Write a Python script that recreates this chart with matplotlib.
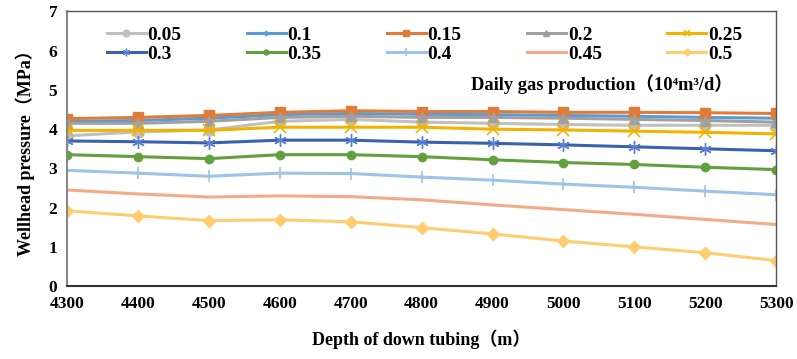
import matplotlib
matplotlib.use('Agg')
import matplotlib.pyplot as plt

depth = [4300, 4400, 4500, 4600, 4700, 4800, 4900, 5000, 5100, 5200, 5300]
labels = ['0.05', '0.1', '0.15', '0.2', '0.25', '0.3', '0.35', '0.4', '0.45', '0.5']

p_005 = [3.83, 3.93, 3.98, 4.20, 4.25, 4.18, 4.15, 4.12, 4.10, 4.10, 4.10]
p_010 = [4.20, 4.22, 4.28, 4.37, 4.40, 4.38, 4.37, 4.35, 4.33, 4.30, 4.28]
p_015 = [4.27, 4.30, 4.35, 4.43, 4.47, 4.45, 4.45, 4.43, 4.43, 4.42, 4.40]
p_020 = [4.15, 4.15, 4.20, 4.30, 4.33, 4.30, 4.30, 4.28, 4.25, 4.22, 4.18]
p_025 = [3.97, 3.97, 3.97, 4.05, 4.05, 4.05, 4.00, 3.98, 3.95, 3.92, 3.88]
p_030 = [3.70, 3.68, 3.65, 3.72, 3.72, 3.67, 3.64, 3.60, 3.55, 3.50, 3.45]
p_035 = [3.35, 3.30, 3.25, 3.35, 3.35, 3.30, 3.22, 3.15, 3.10, 3.03, 2.97]
p_040 = [2.95, 2.88, 2.80, 2.88, 2.87, 2.78, 2.70, 2.60, 2.52, 2.42, 2.33]
p_045 = [2.45, 2.35, 2.27, 2.30, 2.28, 2.20, 2.07, 1.95, 1.83, 1.70, 1.57]
p_050 = [1.92, 1.79, 1.67, 1.69, 1.64, 1.49, 1.33, 1.15, 1.00, 0.85, 0.65]

series = [p_005, p_010, p_015, p_020, p_025, p_030, p_035, p_040, p_045, p_050]
colors = ['#C0C0C0', '#5B9BD5', '#E07B39', '#A0A0A0', '#F2B300',
          '#3A62AE', '#62A03E', '#9DC3E6', '#F4A98A', '#FFCC70']
markers = ['o', 'D', 's', '^', 'x', (6, 2, 0), 'o', '+', None, 'D']
msizes = [8, 4, 7, 7, 8, 9, 6, 9, 0, 6]

plt.rcParams['font.family'] = ['Liberation Serif', 'Noto Sans CJK SC']
plt.rcParams['font.weight'] = 'bold'

fig = plt.figure(figsize=(7.97, 3.59), dpi=100)
ax = fig.add_axes([0.084, 0.203, 0.89, 0.765])

lines = []
for y, lab, c, m, ms in zip(series, labels, colors, markers, msizes):
    if m == (6, 2, 0):
        ln, = ax.plot(depth, y, color=c, lw=2.2, marker=m, ms=ms, mew=1.0, mec='#5B7FD0', label=lab)
    elif m in ('x', '+'):
        ln, = ax.plot(depth, y, color=c, lw=2.2, marker=m, ms=ms, mew=1.2, label=lab)
    else:
        ln, = ax.plot(depth, y, color=c, lw=2.2, marker=m, ms=ms, label=lab)
    lines.append(ln)

ax.set_xlim(4300, 5300)
ax.set_ylim(0, 7)
ax.set_xticks(depth)
ax.set_yticks(range(0, 8))
ax.tick_params(length=0, labelsize=12.5, pad=7)
for lbl in ax.get_xticklabels() + ax.get_yticklabels():
    lbl.set_fontweight('bold')
for side in ['top', 'right']:
    ax.spines[side].set_color('#555555')
    ax.spines[side].set_linewidth(1.0)
ax.spines['left'].set_color('#888888')
ax.spines['left'].set_linewidth(1.5)
ax.spines['bottom'].set_color('#333333')
ax.spines['bottom'].set_linewidth(1.5)

ax.set_xlabel('Depth of down tubing（m）', fontsize=13, fontweight='bold', labelpad=13)
ax.set_ylabel('Wellhead pressure（MPa）', fontsize=13, fontweight='bold', labelpad=10)

# row-major legend order for 5 columns
order = [0, 5, 1, 6, 2, 7, 3, 8, 4, 9]
ax.legend([lines[i] for i in order], [labels[i] for i in order], ncol=5,
          loc='upper left', bbox_to_anchor=(0.056, 0.945), frameon=False,
          borderpad=0, borderaxespad=0, markerscale=0.6,
          prop={'size': 14, 'weight': 'bold'}, columnspacing=3.35, handlelength=2.0,
          handletextpad=0.1, labelspacing=0.05)
ax.text(0.57, 0.735, 'Daily gas production（10\u2074m\u00b3/d）', transform=ax.transAxes,
        fontsize=13.3, fontweight='bold', ha='left', va='center')

fig.savefig('out.png', dpi=100)
